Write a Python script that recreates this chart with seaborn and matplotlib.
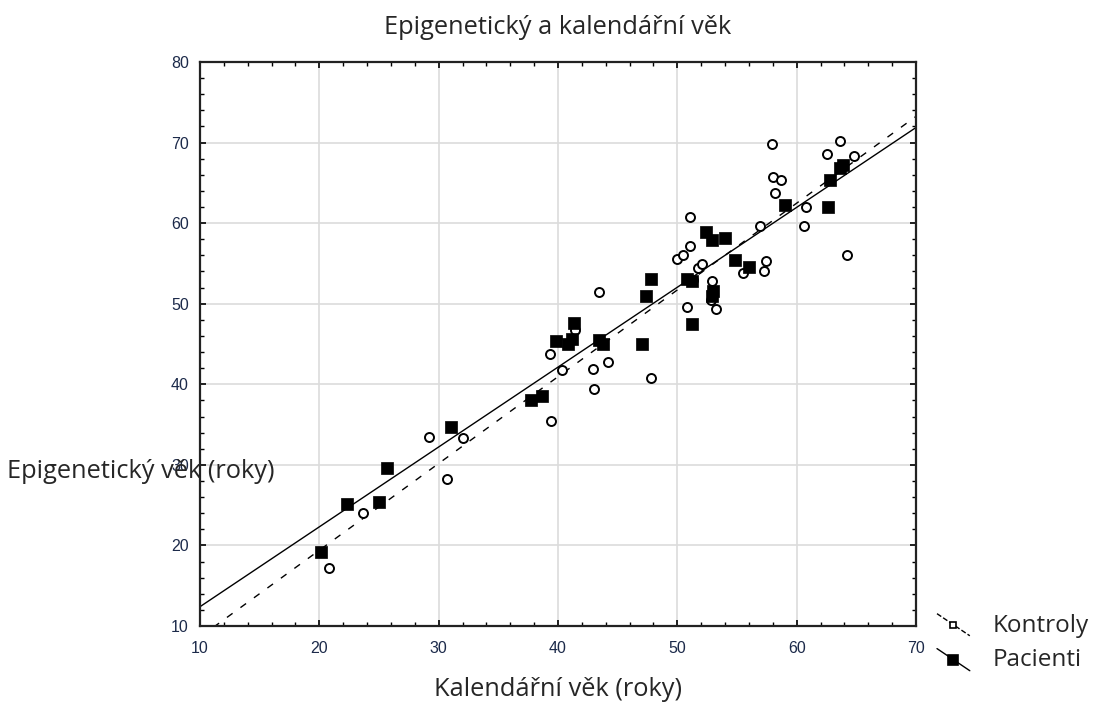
import numpy as np
import pandas as pd
import matplotlib
matplotlib.use("Agg")
import matplotlib.pyplot as plt
from matplotlib.lines import Line2D
from matplotlib.legend_handler import HandlerBase
from matplotlib.ticker import MultipleLocator
import seaborn as sns

# ---- data ----
pacienti_x = [20.1, 22.3, 25.0, 25.7, 31.0, 37.7, 38.7, 39.8, 40.8, 41.2, 41.3,
              43.4, 43.8, 47.0, 47.4, 47.8, 50.8, 51.2, 51.2, 52.4, 52.9, 54.0,
              53.0, 52.9, 54.8, 56.0, 59.0, 62.6, 62.8, 63.6, 63.9]
pacienti_y = [19.2, 25.1, 25.4, 29.6, 34.7, 38.1, 38.6, 45.4, 45.0, 45.6, 47.6,
              45.5, 45.0, 45.0, 51.0, 53.1, 53.1, 52.8, 47.5, 58.9, 57.9, 58.2,
              51.6, 50.9, 55.4, 54.6, 62.3, 62.0, 65.3, 66.9, 67.2]

kontroly_x = [20.8, 23.7, 29.2, 30.7, 32.0, 39.3, 39.4, 40.3, 41.4, 43.0, 42.9,
              43.4, 44.2, 47.8, 50.0, 50.5, 51.1, 51.1, 50.8, 51.3, 51.7, 52.1,
              52.9, 52.8, 53.2, 55.5, 56.9, 57.3, 57.4, 57.9, 58.0, 58.7, 58.2,
              60.8, 60.6, 62.5, 63.6, 64.8, 64.2]
kontroly_y = [17.2, 24.0, 33.5, 28.2, 33.3, 43.8, 35.5, 41.8, 46.7, 39.4, 41.9,
              51.4, 42.8, 40.8, 55.5, 56.1, 57.2, 60.8, 49.6, 52.9, 54.4, 54.9,
              52.8, 50.4, 49.3, 53.8, 59.7, 54.0, 55.3, 69.8, 65.7, 65.3, 63.8,
              62.0, 59.7, 68.6, 70.2, 68.3, 56.1]

group_labels = ["Kontroly", "Pacienti"]
x_ticks = [10, 20, 30, 40, 50, 60, 70]
y_ticks = [10, 20, 30, 40, 50, 60, 70, 80]

title = "Epigenetický a kalendářní věk"
xlabel = "Kalendářní věk (roky)"
ylabel = "Epigenetický věk (roky)"

df_k = pd.DataFrame({"x": kontroly_x, "y": kontroly_y})
df_p = pd.DataFrame({"x": pacienti_x, "y": pacienti_y})

# ---- styling ----
sns.set_style("white")
plt.rcParams["font.family"] = ["Open Sans", "DejaVu Sans"]

W, H = 1097, 713
fig = plt.figure(figsize=(W / 100, H / 100), dpi=100)
ax = fig.add_axes([200 / W, 1 - 626 / H, (916 - 200) / W, (626 - 62) / H])

ax.set_xlim(10, 70)
ax.set_ylim(10, 80)

# regression lines (fitted from data, extended across axis)
sns.regplot(data=df_k, x="x", y="y", ax=ax, scatter=False, ci=None,
            truncate=False,
            line_kws=dict(color="black", lw=1.0, linestyle=(0, (5, 7)), zorder=2))
sns.regplot(data=df_p, x="x", y="y", ax=ax, scatter=False, ci=None,
            truncate=False,
            line_kws=dict(color="black", lw=1.0, linestyle="-", zorder=2))

# points
sns.scatterplot(data=df_k, x="x", y="y", ax=ax, marker="o", s=42,
                facecolor="white", edgecolor="black", linewidth=1.4, zorder=3)
sns.scatterplot(data=df_p, x="x", y="y", ax=ax, marker="s", s=72,
                color="black", edgecolor="black", linewidth=0.5, zorder=4)

ax.set_xlim(10, 70)
ax.set_ylim(10, 80)
ax.set_xticks(x_ticks)
ax.set_yticks(y_ticks)
ax.xaxis.set_minor_locator(MultipleLocator(2))
ax.yaxis.set_minor_locator(MultipleLocator(2))
ax.tick_params(which="both", direction="in", top=True, right=True,
               bottom=True, left=True, color="black")
ax.tick_params(which="major", length=4, width=1.2, labelsize=11.5,
               labelcolor="#1c2a4a")
ax.tick_params(axis="x", which="major", pad=11)
ax.tick_params(axis="y", which="major", pad=8)
ax.tick_params(which="minor", length=3, width=1.0)
for lab in ax.get_xticklabels() + ax.get_yticklabels():
    lab.set_family(["Liberation Sans", "DejaVu Sans"])

ax.grid(True, which="major", color="#dcdcdc", lw=1.2)
ax.set_axisbelow(True)
for sp in ax.spines.values():
    sp.set_color("#222222")
    sp.set_linewidth(1.6)

ax.set_xlabel("")
ax.set_ylabel("")

fig.text(558 / W, 1 - 28 / H, title, ha="center", va="center", fontsize=18.3)
fig.text(558 / W, 1 - 690 / H, xlabel, ha="center", va="center", fontsize=18.3)
fig.text(7 / W, 1 - 472 / H, ylabel, ha="left", va="center", fontsize=18.3)


class SlantHandler(HandlerBase):
    """Statistica-like slanted legend key: line going down-right with a marker."""

    def create_artists(self, legend, orig_handle, xdescent, ydescent,
                       width, height, fontsize, trans):
        x0, x1 = -xdescent, -xdescent + width
        y0, y1 = -ydescent + height * 1.05, -ydescent - height * 0.25
        line = Line2D([x0, x1], [y0, y1], color=orig_handle.get_color(),
                      lw=orig_handle.get_linewidth(),
                      linestyle=orig_handle.get_linestyle(), transform=trans)
        mk = Line2D([(x0 + x1) / 2], [(y0 + y1) / 2], linestyle="none",
                    marker=orig_handle.get_marker(),
                    markersize=orig_handle.get_markersize(),
                    markerfacecolor=orig_handle.get_markerfacecolor(),
                    markeredgecolor=orig_handle.get_markeredgecolor(),
                    markeredgewidth=1.2, transform=trans)
        return [line, mk]


handles = [
    Line2D([], [], color="black", lw=1.0, linestyle=(0, (3, 6)), marker="s",
           markersize=4, markerfacecolor="white", markeredgecolor="black"),
    Line2D([], [], color="black", lw=1.0, linestyle="-", marker="s",
           markersize=6.5, markerfacecolor="black", markeredgecolor="black"),
]
fig.legend(handles, group_labels, loc="center left",
           bbox_to_anchor=(937 / W, 1 - 643 / H), frameon=False,
           fontsize=17.5, handlelength=1.35, handletextpad=0.95,
           labelspacing=0.45, borderaxespad=0, borderpad=0,
           handler_map={Line2D: SlantHandler()})

fig.savefig("out.png", dpi=100)
